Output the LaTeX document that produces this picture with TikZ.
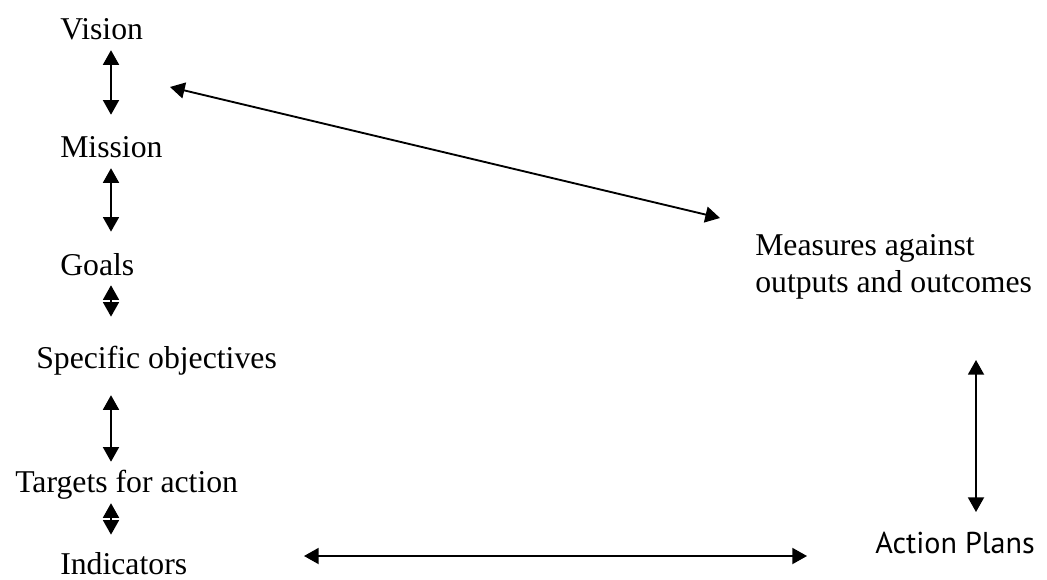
\documentclass[tikz,border=0pt]{standalone}
\usepackage{fontspec}
\setmainfont{Liberation Serif}
\newfontfamily\plansfont{PT Sans}
\usetikzlibrary{arrows.meta}

\begin{document}
\begin{tikzpicture}[
        x=0.75pt, y=-0.75pt,
        inner sep=0pt,
        font=\fontsize{23.8}{27.8}\selectfont,
        level/.style={anchor=base west, text height=16pt, text depth=5pt},
        biarrow/.style={{Triangle[length=11pt,width=12pt]}-{Triangle[length=11pt,width=12pt]}, line width=1.4pt}]
        % bounding box
        \useasboundingbox (0,0) rectangle (1047,579);
        % NODES
        % x of the left column of arrows
        \coordinate (colx) at (111,0);
        % node vision
        \node[level] (vision) at (60,39) {Vision};
        % node mission
        \node[level] (mission) at (60,157) {Mission};
        % node goals
        \node[level] (goals) at (60,275) {Goals};
        % node objectives
        \node[level] (objectives) at (36,368) {Specific objectives};
        % node targets
        \node[level] (targets) at (15,492) {Targets for action};
        % node indicators
        \node[level] (indicators) at (60,574) {Indicators};
        % node measures
        \node[anchor=north west, align=left] (measures) at (755,234.5) {Measures against\\outputs and outcomes};
        % node plans
        \node[anchor=base west, font=\plansfont\fontsize{22.6}{26}\selectfont] (plans) at (875,553) {Action Plans};
        % free ends
        \coordinate (diagA) at (170,87);
        \coordinate (diagB) at (720,218);
        \coordinate (horA) at (304,556);
        \coordinate (horB) at (807,556);
        \coordinate (vertA) at (976,360);
        \coordinate (vertB) at (976,512);

        % ARROWS
        \draw[biarrow, shorten <=3.2pt, shorten >=15.5pt] (vision.south -| colx) -- (mission.north -| colx);
        \draw[biarrow, shorten <=3.2pt, shorten >=16.3pt] (mission.south -| colx) -- (goals.north -| colx);
        \draw[biarrow, shorten <=2.5pt, shorten >=22.3pt] (goals.south -| colx) -- (objectives.north -| colx);
        \draw[biarrow, shorten <=15.2pt, shorten >=6.5pt] (objectives.south -| colx) -- (targets.north -| colx);
        \draw[biarrow, shorten <=3.2pt, shorten >=13.3pt] (targets.south -| colx) -- (indicators.north -| colx);
        \draw[biarrow] (diagA) -- (diagB);
        \draw[biarrow] (horA) -- (horB);
        \draw[biarrow] (vertA) -- (vertB);
    \end{tikzpicture}
\end{document}
